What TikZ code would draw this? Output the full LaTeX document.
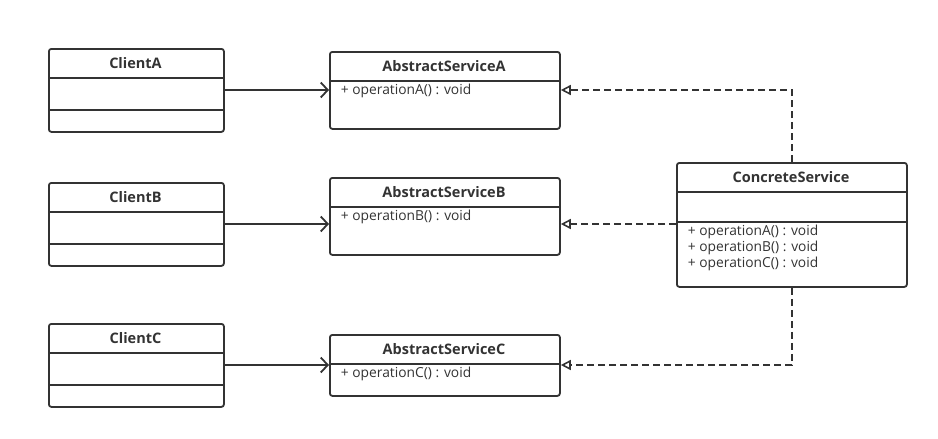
\documentclass[tikz,border=0pt]{standalone}
\usepackage{fontspec}
\setmainfont{Open Sans}
\usetikzlibrary{positioning, arrows.meta}
\definecolor{ink}{HTML}{333333}

\begin{document}
\begin{tikzpicture}[x=1pt,y=-1pt,line width=1.8pt,draw=ink,text=ink,
	class/.style={draw=ink, rounded corners=2.5pt, anchor=north west, inner sep=0pt},
	title/.style={font=\fontsize{14.5}{16}\selectfont\bfseries},
	member/.style={font=\fontsize{13.8}{16}\selectfont, anchor=west, inner sep=0pt, align=left},
	assoc/.style={draw=ink, -{Straight Barb[length=7pt,width=15pt,line width=1.8pt]}},
	realize/.style={draw=ink, dash pattern=on 7pt off 4pt, -{Triangle[open,length=10pt,width=10pt,line width=1.6pt]}}]
	\useasboundingbox (0,0) rectangle (938,439);

	% clients
	\node[class, minimum width=175pt, minimum height=83pt] (ClientA) at (48,48)  {};
	\node[class, minimum width=175pt, minimum height=83pt] (ClientB) at (48,182) {};
	\node[class, minimum width=175pt, minimum height=83pt] (ClientC) at (48,323) {};
	\node[title] (ClientA_name) at (135.5,63)  {ClientA};
	\node[title] (ClientB_name) at (135.5,197) {ClientB};
	\node[title] (ClientC_name) at (135.5,338) {ClientC};
	\draw (ClientA.west |- 0,78)  -- (ClientA.east |- 0,78);
	\draw (ClientA.west |- 0,110) -- (ClientA.east |- 0,110);
	\draw (ClientB.west |- 0,212) -- (ClientB.east |- 0,212);
	\draw (ClientB.west |- 0,244) -- (ClientB.east |- 0,244);
	\draw (ClientC.west |- 0,353) -- (ClientC.east |- 0,353);
	\draw (ClientC.west |- 0,385) -- (ClientC.east |- 0,385);

	% services
	\node[class, minimum width=230pt, minimum height=77pt] (ServiceA) at (329,51)  {};
	\node[class, minimum width=230pt, minimum height=77pt] (ServiceB) at (329,177) {};
	\node[class, minimum width=230pt, minimum height=61pt] (ServiceC) at (329,334) {};
	\node[title] (ServiceA_name) at (444,66)  {AbstractServiceA};
	\node[title] (ServiceB_name) at (444,192) {AbstractServiceB};
	\node[title] (ServiceC_name) at (444,349) {AbstractServiceC};
	\draw (ServiceA.west |- 0,81)  -- (ServiceA.east |- 0,81);
	\draw (ServiceB.west |- 0,207) -- (ServiceB.east |- 0,207);
	\draw (ServiceC.west |- 0,364) -- (ServiceC.east |- 0,364);
	\node[member] (ServiceA_op) at (340,91)  {+ operationA() : void};
	\node[member] (ServiceB_op) at (340,217) {+ operationB() : void};
	\node[member] (ServiceC_op) at (340,374) {+ operationC() : void};

	% concrete
	\node[class, minimum width=230pt, minimum height=124pt] (Concrete) at (676,162) {};
	\node[title] (Concrete_name) at (791,177) {ConcreteService};
	\draw (Concrete.west |- 0,192) -- (Concrete.east |- 0,192);
	\draw (Concrete.west |- 0,222) -- (Concrete.east |- 0,222);
	\node[member] (Concrete_ops) at (687,248) {+ operationA() : void\\+ operationB() : void\\+ operationC() : void};

	% connectors
	\draw[assoc] (ClientA.east |- 0,90)  -- (ServiceA.west |- 0,90);
	\draw[assoc] (ClientB.east |- 0,224) -- (ServiceB.west |- 0,224);
	\draw[assoc] (ClientC.east |- 0,365) -- (ServiceC.west |- 0,365);
	\draw[realize] (Concrete.north) |- (ServiceA.east |- 0,90);
	\draw[realize] (Concrete.west |- 0,224) -- (ServiceB.east |- 0,224);
	\draw[realize] (Concrete.south) |- (ServiceC.east |- 0,365);
\end{tikzpicture}
\end{document}
